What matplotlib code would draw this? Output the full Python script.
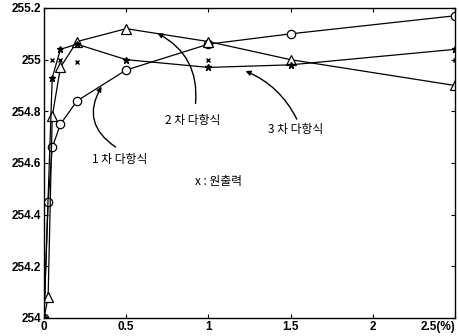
import matplotlib
matplotlib.use("Agg")
import matplotlib.pyplot as plt

plt.rcParams['font.family'] = ['Liberation Sans', 'Noto Sans CJK KR', 'DejaVu Sans']

# data
x_circ = [0, 0.025, 0.05, 0.1, 0.2, 0.5, 1.0, 1.5, 2.5]
y_circ = [254.0, 254.45, 254.66, 254.75, 254.84, 254.96, 255.06, 255.10, 255.17]

x_tri = [0, 0.025, 0.05, 0.1, 0.2, 0.5, 1.0, 1.5, 2.5]
y_tri = [254.0, 254.08, 254.78, 254.97, 255.07, 255.12, 255.07, 255.00, 254.90]

x_star = [0, 0.05, 0.1, 0.2, 0.5, 1.0, 1.5, 2.5]
y_star = [254.0, 254.93, 255.04, 255.06, 255.00, 254.97, 254.98, 255.04]

x_orig = [0.05, 0.1, 0.2, 1.0, 2.5]
y_orig = [255.0, 255.0, 254.99, 255.0, 255.0]

xticks = [0, 0.5, 1, 1.5, 2, 2.5]
xticklabels = ['0', '0.5', '1', '1.5', '2', '2.5(%)']
yticks = [254, 254.2, 254.4, 254.6, 254.8, 255, 255.2]
yticklabels = ['254', '254.2', '254.4', '254.6', '254.8', '255', '255.2']

fig = plt.figure(figsize=(4.6, 3.36), dpi=100)
ax = fig.add_axes([44/460, 1-318/336, (455-44)/460, (318-8)/336])

lw = 0.9
ax.plot(x_circ, y_circ, '-', color='black', lw=lw, marker='o', mfc='white', mec='black', ms=6, mew=0.9)
ax.plot(x_tri, y_tri, '-', color='black', lw=lw, marker='^', mfc='white', mec='black', ms=6.5, mew=0.9)
ax.plot(x_star, y_star, '-', color='black', lw=lw, marker='*', mfc='black', mec='black', ms=5)
ax.plot(x_orig, y_orig, 'x', color='black', ms=3.5, mew=1.0)

ax.set_xlim(0, 2.5)
ax.set_ylim(254, 255.2)
ax.set_xticks(xticks)
ax.set_xticklabels(xticklabels)
ax.set_yticks(yticks)
ax.set_yticklabels(yticklabels)
ax.tick_params(direction='in', top=True, right=True, length=3, width=0.8,
               labelsize=8.5, pad=2)
for lab in ax.get_xticklabels() + ax.get_yticklabels():
    lab.set_fontweight('bold')
ax.get_xticklabels()[-1].set_ha('right')
for s in ax.spines.values():
    s.set_linewidth(1.0)

kfont = dict(family=['Noto Sans CJK KR', 'DejaVu Sans'], fontsize=8.5, color='black')
ap = dict(arrowstyle='-|>', color='black', lw=1.0, mutation_scale=7)

ax.annotate('', xy=(0.675, 255.107), xytext=(0.92, 254.82),
            arrowprops=dict(ap, connectionstyle='arc3,rad=0.35'))
ax.text(0.736, 254.765, '2 차 다항식', ha='left', va='center', **kfont)

ax.annotate('', xy=(0.359, 254.905), xytext=(0.45, 254.656),
            arrowprops=dict(ap, connectionstyle='arc3,rad=-0.5'))
ax.text(0.29, 254.615, '1 차 다항식', ha='left', va='center', **kfont)

ax.annotate('', xy=(1.21, 254.96), xytext=(1.545, 254.76),
            arrowprops=dict(ap, connectionstyle='arc3,rad=0.2'))
ax.text(1.363, 254.73, '3 차 다항식', ha='left', va='center', **kfont)

ax.text(0.918, 254.528, 'x : 원출력', ha='left', va='center', **kfont)

fig.savefig('out.png', dpi=100)
